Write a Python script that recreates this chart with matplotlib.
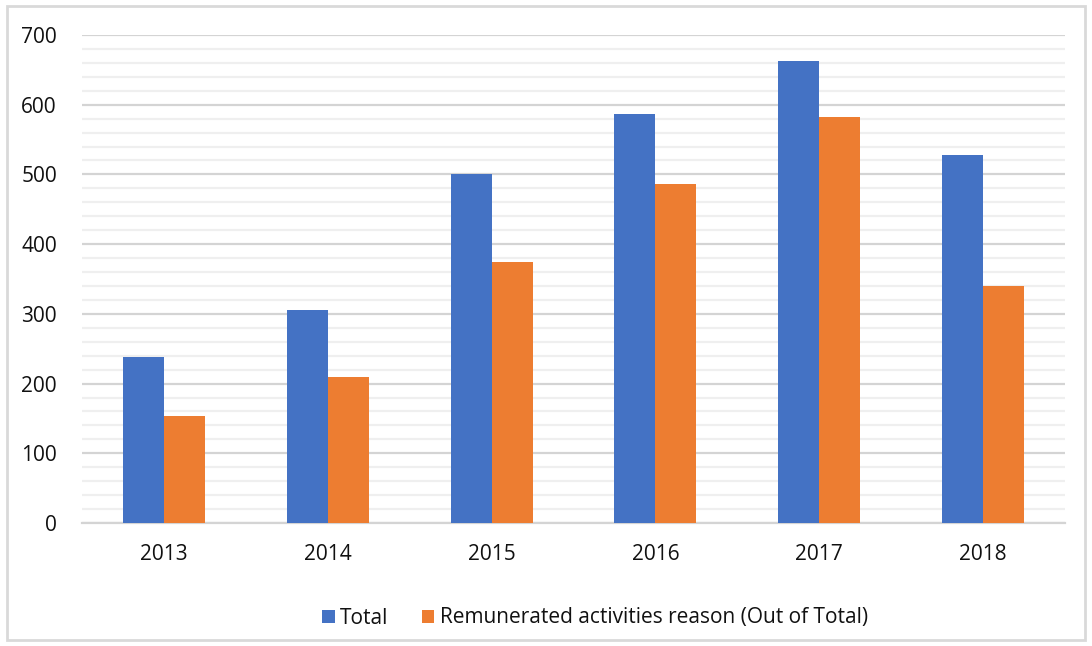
import matplotlib.pyplot as plt
import matplotlib
import numpy as np
from matplotlib.patches import Rectangle

matplotlib.rcParams['font.family'] = ['Open Sans', 'DejaVu Sans']

years = ['2013', '2014', '2015', '2016', '2017', '2018']
total = [238, 306, 501, 587, 663, 528]
remunerated = [153, 209, 374, 486, 582, 340]

BLUE = '#4472C4'
ORANGE = '#ED7D31'

fig = plt.figure(figsize=(10.92, 6.46), dpi=100)
ax = fig.add_axes([82 / 1092, 1 - 523 / 646, (1065 - 82) / 1092, (523 - 35) / 646])

x = np.arange(len(years))
width = 0.25
ax.bar(x - width / 2, total, width, color=BLUE, label='Total', zorder=3)
ax.bar(x + width / 2, remunerated, width, color=ORANGE,
       label='Remunerated activities reason (Out of Total)', zorder=3)

ax.set_xlim(-0.5, len(years) - 0.5)
ax.set_ylim(0, 700)
ax.set_yticks(range(0, 701, 100))
ax.set_yticks(range(0, 701, 20), minor=True)
ax.set_xticks(x)
ax.set_xticklabels(years)

# major and minor horizontal grid
ax.grid(axis='y', which='major', color='#d4d4d4', linewidth=1.6, zorder=0)
ax.grid(axis='y', which='minor', color='#efefef', linewidth=1.6, zorder=0)
ax.grid(axis='x', visible=False)

for s in ['top', 'right', 'left']:
    ax.spines[s].set_visible(False)
ax.spines['bottom'].set_color('#d4d4d4')
ax.spines['bottom'].set_linewidth(1.6)
ax.tick_params(axis='both', which='both', length=0, labelsize=15, colors='#111111')
ax.tick_params(axis='y', pad=18)
ax.tick_params(axis='x', pad=15)

fig.legend(loc='center', bbox_to_anchor=(595 / 1092, 1 - 618 / 646), ncol=2,
           frameon=False, fontsize=15, handlelength=0.6, handleheight=0.6,
           handletextpad=0.25, columnspacing=1.6, labelcolor='#111111')

# light border around the whole figure
fig.patches.append(Rectangle((7 / 1092, 6 / 646), 1 - 14 / 1092, 1 - 12 / 646,
                             transform=fig.transFigure, fill=False,
                             edgecolor='#d9d9d9', linewidth=2))

plt.savefig('out.png', dpi=100, facecolor='white')
plt.close()
